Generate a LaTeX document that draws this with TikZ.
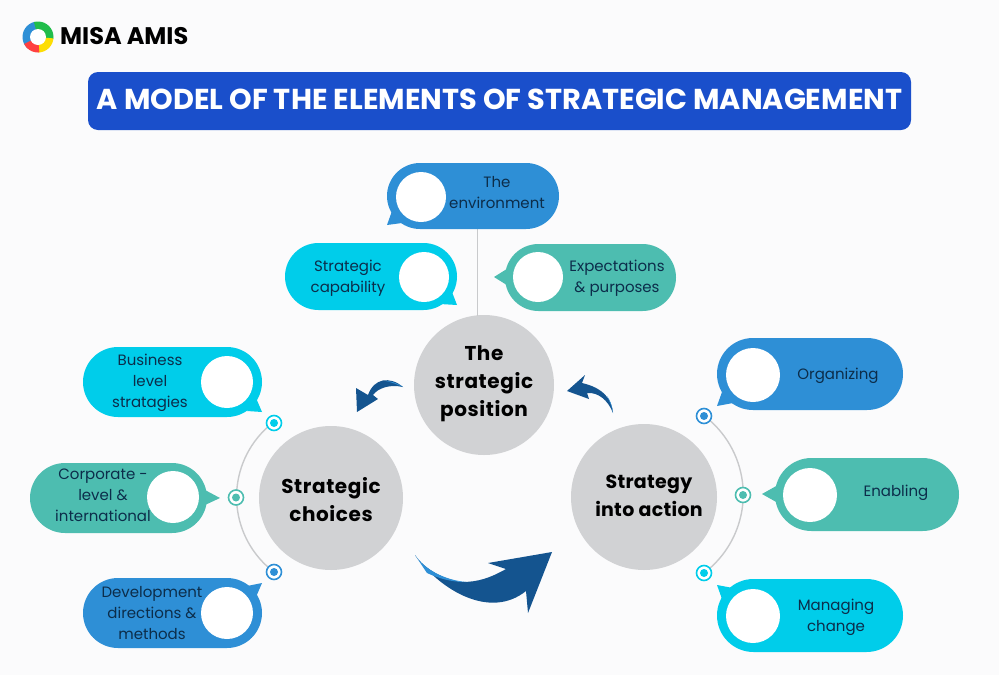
\documentclass[tikz,border=0pt]{standalone}
\usepackage{fontspec}
\setmainfont{Poppins}
\definecolor{bg}{HTML}{FBFBFC}
\definecolor{ttl}{HTML}{1A4FCB}
\definecolor{cbl}{HTML}{2E8FD6}
\definecolor{ccy}{HTML}{00CDEA}
\definecolor{cte}{HTML}{4DBDB0}
\definecolor{cgr}{HTML}{D1D2D4}
\definecolor{cdk}{HTML}{14548F}
\definecolor{txt}{HTML}{0C2D4A}
\tikzset{
 x=1pt,y=-1pt,
 hub/.style={circle,fill=cgr,inner sep=0,minimum size=#1},
 hubtext/.style={align=center,inner sep=0,text=black,font=\fontsize{20}{28}\selectfont\bfseries\addfontfeature{LetterSpace=3}},
 lbl/.style={align=center,font=\fontsize{15}{21}\selectfont,text=txt,inner sep=0},
 hole/.style={circle,fill=white,inner sep=0,minimum size=#1},
 conn/.style={draw=cgr!90!gray,line width=1.4pt},
}
\newcommand{\pill}[6]{% x1 y1 x2 y2 color tail
 \pgfmathsetmacro{\rr}{(#4-#2)/2}
 \fill[#5,rounded corners=\rr pt] (#1,#2) rectangle (#3,#4);
 \fill[#5] #6 -- cycle;
}
\begin{document}
\begin{tikzpicture}
\useasboundingbox (0,0) rectangle (999,675);
\fill[bg] (0,0) rectangle (999,675);
% logo
\begin{scope}
\clip (38,37) circle (15.5);
\fill[cbl] (38,37) -- (26,50) -- (15,40) -- (20,15) -- (34,15) -- cycle;
\fill[green!50!cte!85!black] (38,37) -- (32,15) -- (60,15) -- (60,40) -- cycle;
\fill[yellow!80!orange] (38,37) -- (60,39) -- (60,60) -- (38,60) -- cycle;
\fill[red!75!white] (38,37) -- (40,60) -- (15,60) -- (24,44) -- cycle;
\fill[white] (38,37) circle (8);
\end{scope}
\node[font=\fontsize{24}{24}\selectfont\bfseries,anchor=west,inner sep=0] (logo) at (60,36.5) {MISA\kern5pt AMIS};
% title
\node[fill=ttl,rounded corners=10pt,minimum width=823pt,minimum height=58pt,inner sep=0] (title) at (499.5,101) {};
\node[inner sep=0,text=white,font=\fontsize{28.8}{28.8}\selectfont\bfseries] (titletext) at (499.5,99) {A MODEL OF THE ELEMENTS OF STRATEGIC MANAGEMENT};
% hubs
\node[hub=140pt] (pos) at (484,385) {};
\node[hub=144pt] (cho) at (331,498) {};
\node[hub=146pt] (act) at (644,497) {};
\node[hubtext] (post) at (484,384) {The\\strategic\\position};
\node[hubtext] (chot) at (331,500) {Strategic\\choices};
\node[hubtext,font=\fontsize{19}{28}\selectfont\bfseries\addfontfeature{LetterSpace=1.5}] (actt) at (649,495.5) {Strategy\\into action};
\coordinate (envb) at (477.5,229);
\coordinate (posb) at (477.5,316);
\draw[conn] (envb) -- (posb);
% arcs
\coordinate (dl1) at (274,423); \coordinate (dl3) at (274,572);
\coordinate (dr1) at (704,416); \coordinate (dr3) at (704,573);
\draw[conn] (dl3) arc[start angle=127,end angle=233,radius=94];
\draw[conn] (dr3) arc[start angle=53,end angle=-53,radius=98.5];
% bubbles
\pill{387}{163}{559}{229}{cbl}{(387,225) -- (392,211) -- (402,223)}
\pill{285}{243}{457}{310}{ccy}{(457,305) -- (452,292) -- (440,304)}
\pill{505}{244}{676}{311}{cte}{(494,277) -- (510,267) -- (510,287)}
\pill{83}{347}{262}{417}{ccy}{(262,412) -- (256,398) -- (247,411)}
\pill{30}{463}{207}{533}{cte}{(220,498) -- (205,490) -- (205,505)}
\pill{83}{578}{262}{648}{cbl}{(262,583) -- (256,597) -- (247,586)}
\pill{717}{338}{903}{410}{cbl}{(717,406) -- (722,392) -- (733,403)}
\pill{775}{458}{959}{531}{cte}{(762,494) -- (778,485) -- (778,503)}
\pill{717}{579}{903}{652}{ccy}{(717,585) -- (722,599) -- (733,588)}
% holes
\node[hole=50pt] at (421,197) {};
\node[hole=50pt] at (424,277) {};
\node[hole=50pt] at (538,277) {};
\node[hole=52pt] at (227,382) {};
\node[hole=52pt] at (173,497) {};
\node[hole=52pt] at (227,613) {};
\node[hole=54pt] at (753,375) {};
\node[hole=54pt] at (810,495) {};
\node[hole=54pt] at (753,616) {};
% labels
\node[lbl] (l1) at (497,192.5) {The\\environment};
\node[lbl] (l2) at (348,278.5) {Strategic\\capability};
\node[lbl] (l3) at (617,278.5) {Expectations\\\& purposes};
\node[lbl] (l4) at (150,383) {Business\\level\\stratagies};
\node[lbl] (l5) at (103,495) {Corporate -\\level \&\\international};
\node[lbl] (l6) at (152,613) {Development\\directions \&\\methods};
\node[lbl] (l7) at (838,376) {Organizing};
\node[lbl] (l8) at (896,493) {Enabling};
\node[lbl] (l9) at (836,617.5) {Managing\\change};
% dots
\foreach \p/\c in {{(dl1)}/ccy,{(236,497.5)}/cte,{(dl3)}/cbl,{(dr1)}/cbl,{(743,495)}/cte,{(dr3)}/ccy}{
 \node[circle,fill=white,draw=\c,line width=1.6pt,inner sep=0,minimum size=15pt] at \p {};
 \node[circle,fill=\c,inner sep=0,minimum size=8pt] at \p {};
}
% big arrow
\fill[cdk] (415,555) .. controls (440,590) and (490,620) .. (526,591) -- (528,613) -- (552,552) -- (488,563) -- (506,569) .. controls (490,578) and (478,582) .. (462,582) .. controls (445,580) and (425,570) .. (415,555) -- cycle;
\fill[cbl] (415,555) .. controls (425,570) and (445,580) .. (466,582) .. controls (450,582) and (438,578) .. (427,573) -- cycle;
% small arrows
\fill[cdk] (403,387) .. controls (390,376) and (374,378) .. (368,395) -- (356,388) -- (357,412) -- (378,399) -- (373,395) .. controls (378,388) and (390,384) .. (403,387) -- cycle;
\fill[cbl] (403,387) .. controls (396,382.5) and (390,381) .. (386,381) .. controls (391,382) and (396,384) .. (403,387) -- cycle;
\fill[cdk] (613,413) .. controls (612,400) and (604,388) .. (582,383) -- (585,375) -- (567,391) -- (589,399) -- (587,393) .. controls (598,392) and (608,400) .. (613,413) -- cycle;
\fill[cbl] (613,413) .. controls (612,405) and (610,400) .. (607,396) .. controls (610,402) and (612,407) .. (613,413) -- cycle;
\end{tikzpicture}
\end{document}
